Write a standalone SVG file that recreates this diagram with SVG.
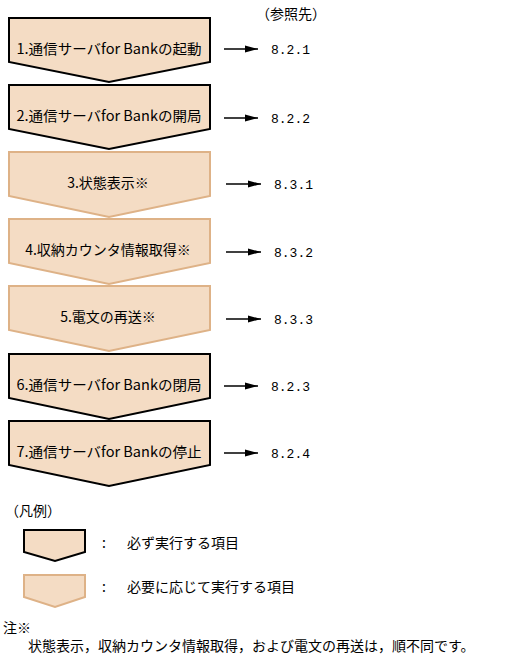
<svg xmlns="http://www.w3.org/2000/svg" width="512" height="661" viewBox="0 0 512 661">
<defs>
<style>
.req{fill:#F4DCC4;stroke:#000;stroke-width:2;stroke-linejoin:miter}
.opt{fill:#F4DCC4;stroke:#DEB287;stroke-width:2;stroke-linejoin:miter}
.t{font-family:"Noto Sans CJK JP","Noto Sans",sans-serif;font-size:14px;fill:#000}
.lbl{font-family:"Noto Sans CJK JP","Noto Sans",sans-serif;font-size:14px;fill:#000;text-anchor:middle}
.ref{font-family:"Liberation Mono","DejaVu Sans Mono",monospace;font-size:13px;fill:#000}
.con{stroke:#000;stroke-width:1.3;fill:none}
</style>
<marker id="ah" markerWidth="14" markerHeight="10" refX="13" refY="5" orient="auto" markerUnits="userSpaceOnUse">
<path d="M0,1.5 L13,5 L0,8.5 Z" fill="#000"/>
</marker>
</defs>
<rect width="512" height="661" fill="#fff"/>
<text class="t" x="256" y="19" font-size="13">（参照先）</text>

<g id="n1"><path class="req" d="M9,18 H210 V62 L109,82 L9,62 Z"/><text class="lbl" x="109" y="54" textLength="185" lengthAdjust="spacingAndGlyphs">1.通信サーバfor Bankの起動</text></g>
<g id="n2"><path class="req" d="M9,85 H210 V129 L109,149 L9,129 Z"/><text class="lbl" x="109" y="121" textLength="185" lengthAdjust="spacingAndGlyphs">2.通信サーバfor Bankの開局</text></g>
<g id="n3"><path class="opt" d="M9,152 H210 V196 L109,217 L9,196 Z"/><text class="lbl" x="108" y="188">3.状態表示※</text></g>
<g id="n4"><path class="opt" d="M9,219 H210 V263 L109,284 L9,263 Z"/><text class="lbl" x="108" y="255">4.収納カウンタ情報取得※</text></g>
<g id="n5"><path class="opt" d="M9,286 H210 V330 L109,351 L9,330 Z"/><text class="lbl" x="108" y="322">5.電文の再送※</text></g>
<g id="n6"><path class="req" d="M9,354 H210 V398 L109,419 L9,398 Z"/><text class="lbl" x="109" y="390" textLength="185" lengthAdjust="spacingAndGlyphs">6.通信サーバfor Bankの閉局</text></g>
<g id="n7"><path class="req" d="M9,421 H210 V465 L109,486 L9,465 Z"/><text class="lbl" x="109" y="457" textLength="185" lengthAdjust="spacingAndGlyphs">7.通信サーバfor Bankの停止</text></g>

<g id="connectors">
<line class="con" x1="224" y1="49" x2="258" y2="49" marker-end="url(#ah)"/>
<line class="con" x1="224" y1="118" x2="258" y2="118" marker-end="url(#ah)"/>
<line class="con" x1="226" y1="184" x2="261" y2="184" marker-end="url(#ah)"/>
<line class="con" x1="226" y1="252" x2="261" y2="252" marker-end="url(#ah)"/>
<line class="con" x1="226" y1="319" x2="261" y2="319" marker-end="url(#ah)"/>
<line class="con" x1="224" y1="386" x2="258" y2="386" marker-end="url(#ah)"/>
<line class="con" x1="224" y1="453" x2="258" y2="453" marker-end="url(#ah)"/>
</g>

<g id="refs">
<text class="ref" x="271" y="54">8.2.1</text>
<text class="ref" x="271" y="123">8.2.2</text>
<text class="ref" x="274" y="189">8.3.1</text>
<text class="ref" x="274" y="257">8.3.2</text>
<text class="ref" x="274" y="324">8.3.3</text>
<text class="ref" x="271" y="391">8.2.3</text>
<text class="ref" x="271" y="458">8.2.4</text>
</g>

<g id="legend">
<text class="t" x="5" y="516" font-size="13">（凡例）</text>
<path class="req" d="M24,530 H85 V552 L55,561 L24,552 Z"/>
<text class="t" x="102" y="548" font-size="13">:</text>
<text class="t" x="127" y="548" font-size="13.8">必ず実行する項目</text>
<path class="opt" stroke-width="1" d="M24,575 H85 V597 L55,607 L24,597 Z"/>
<text class="t" x="102" y="592" font-size="13">:</text>
<text class="t" x="127" y="592" font-size="13.8">必要に応じて実行する項目</text>
</g>

<g id="note">
<text class="t" x="3" y="633" font-size="13.5">注※</text>
<text class="t" x="28" y="651" font-size="13.5">状態表示，収納カウンタ情報取得，および電文の再送は，順不同です。</text>
</g>
</svg>
